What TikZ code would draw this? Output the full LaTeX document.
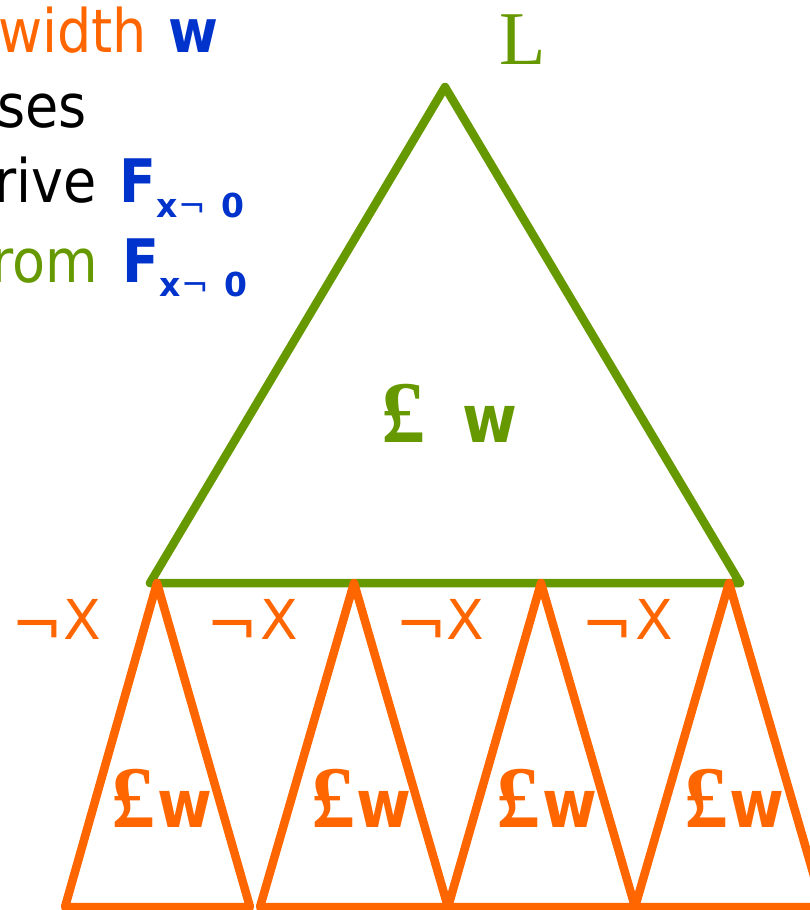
\documentclass[tikz,border=0pt]{standalone}
\usepackage{fontspec}
\setmainfont{DejaVu Sans Condensed}
\newfontfamily\serifP{Liberation Serif}
\newfontfamily\plainsans{DejaVu Sans}
\definecolor{orng}{HTML}{FF6600}
\definecolor{grn}{HTML}{669900}
\definecolor{blu}{HTML}{0033CC}
\tikzset{
  txt/.style={inner sep=0pt, outer sep=0pt},
  bigtxt/.style={txt, font=\fontsize{60}{70}\selectfont},
  bigbold/.style={txt, font=\fontsize{60}{70}\selectfont\bfseries, text=blu},
  subbold/.style={txt, font=\fontsize{33}{36}\selectfont\plainsans\bfseries, text=blu},
  subneg/.style={txt, font=\fontsize{33}{36}\selectfont\plainsans, text=blu},
  pound/.style={txt, font=\fontsize{88}{90}\selectfont\serifP\bfseries},
  wbold/.style={txt, font=\fontsize{66}{70}\selectfont\bfseries},
  negsign/.style={txt, font=\fontsize{62}{66}\selectfont\plainsans, text=orng},
  xsign/.style={txt, font=\fontsize{55}{60}\selectfont\plainsans, text=orng},
  greentri/.style={draw=grn, line width=8.5pt, line join=round},
  orangetri/.style={draw=orng, line width=8.5pt, line join=round},
}
\begin{document}
\begin{tikzpicture}[x=1pt,y=-1pt]
\useasboundingbox (0,0) rectangle (810,910);
\clip (0,0) rectangle (810,910);

% top-left text lines
\node[bigtxt, text=orng, anchor=base east] (t1) at (147,52) {width};
\node[bigbold, anchor=base west] (t1w) at (168,52) {w};
\node[bigtxt, text=black, anchor=base east] (t2) at (87,127) {ses};
\node[bigtxt, text=black, anchor=base east] (t3) at (97,202) {rive};
\node[bigbold, anchor=base west] (t3F) at (119,202) {F};
\node[subbold, anchor=base west] (t3x) at (156,217) {x};
\node[subneg, anchor=base west] (t3n) at (178,217) {¬};
\node[subbold, anchor=base west] (t3z) at (221,217) {0};
\node[bigtxt, text=grn, anchor=base east] (t4) at (98,282) {rom};
\node[bigbold, anchor=base west] (t4F) at (122,282) {F};
\node[subbold, anchor=base west] (t4x) at (159,296) {x};
\node[subneg, anchor=base west] (t4n) at (181,296) {¬};
\node[subbold, anchor=base west] (t4z) at (224,296) {0};

% big green triangle
\coordinate (gA) at (445,87);
\coordinate (gL) at (150,583);
\coordinate (gR) at (740,583);
\draw[greentri] (gA) -- (gL) -- (gR) -- cycle;
\node[txt, text=grn, anchor=base west, font=\fontsize{76}{80}\selectfont\serifP] (Lab) at (499,64) {L};
\node[pound, text=grn, anchor=base west] (gP) at (381,442) {£};
\node[wbold, text=grn, anchor=base west] (gW) at (462,442) {w};

% orange triangles
\foreach \i/\ax/\bl/\br in {1/157/65/250, 2/354/260/448, 3/541/448/635, 4/729/635/823}{
  \coordinate (oA\i) at (\ax,583);
  \coordinate (oL\i) at (\bl,907);
  \coordinate (oR\i) at (\br,907);
  \draw[orangetri] (oA\i) -- (oL\i) -- (oR\i) -- cycle;
}
\foreach \i/\px/\wx in {1/111/157, 2/311/356, 3/496/542, 4/684/729}{
  \node[pound, text=orng, anchor=base west] (oP\i) at (\px,827) {£};
  \node[wbold, text=orng, anchor=base west] (oW\i) at (\wx,827) {w};
}
\foreach \i/\nx/\xx in {1/11/63, 2/206/260, 3/395/446, 4/581/635}{
  \node[negsign, anchor=base west] (ng\i) at (\nx,646) {¬};
  \node[xsign, anchor=base west] (xs\i) at (\xx,639) {X};
}
\end{tikzpicture}
\end{document}
